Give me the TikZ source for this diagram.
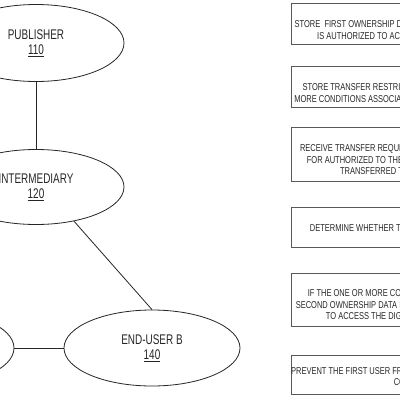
\documentclass[tikz,border=0pt]{standalone}
\usepackage{fontspec}
\newfontfamily\partyfont[FakeStretch=0.71]{Liberation Sans}
\newfontfamily\stepfont[FakeStretch=0.75]{Liberation Sans}
\usetikzlibrary{shapes.geometric}
\tikzset{
  party/.style={draw=black!85, line width=0.8pt, ellipse, inner sep=0pt, minimum width=176pt, minimum height=77pt, align=center, font=\partyfont\fontsize{14}{15}\selectfont, text=black!85},
  stepbox/.style={draw=black!65, line width=0.8pt, minimum width=280pt, inner sep=0pt},
  steptext/.style={align=center, font=\stepfont\fontsize{10}{11.5}\selectfont, text=black!85, inner sep=0pt},
  link/.style={draw=black!85, line width=0.8pt}
}

\begin{document}
\begin{tikzpicture}[x=1pt, y=-1pt]
\useasboundingbox (0,0) rectangle (400,400);
\clip (0,0) rectangle (400,400);
% parties
\node[party] (publisher) at (36,43) {PUBLISHER\\\underline{110}};
\node[party, minimum height=75pt] (intermediary) at (36,187) {INTERMEDIARY\\\underline{120}};
\node[party, minimum height=76pt] (enduserA) at (-74,348) {};
\node[party, minimum height=76pt] (enduserB) at (152,348) {END-USER B\\\underline{140}};
\draw[link] (publisher) -- (intermediary);
\draw[link] (intermediary.-42) -- (enduserB.north);
\draw[link] (enduserA) -- (enduserB);
% flow steps
\node[stepbox, minimum height=41pt] (storeowner) at (431,23.5) {};
\node[steptext] at ([yshift=-6.5pt]storeowner.center) {STORE~ FIRST OWNERSHIP DATA INDICATING THAT FIRST USER ACCOUNT\\IS AUTHORIZED TO ACCESS THE PARTICULAR CONTENT ITEM};
\node[stepbox, minimum height=41pt] (storerestrict) at (431,86.5) {};
\node[steptext] at ([yshift=-6.5pt]storerestrict.center) {STORE TRANSFER RESTRICTION DATA INDICATING THAT THE ONE OR\\MORE CONDITIONS ASSOCIATED WITH TRANSFER OF THE CONTENT ITEM};
\node[stepbox, minimum height=54pt] (receive) at (431,154) {};
\node[steptext] at ([yshift=-6pt]receive.center) {RECEIVE TRANSFER REQUEST INDICATING A SECOND USER ACCOUNT\\FOR AUTHORIZED TO THE PARTICULAR CONTENT ITEM TO NOW BE\\TRANSFERRED TO THE SECOND USER ACCOUNT};
\node[stepbox, minimum height=40pt] (determine) at (431,227) {};
\node[steptext] at ([yshift=-1pt]determine.center) {DETERMINE WHETHER THE ONE OR MORE CONDITIONS ARE MET};
\node[stepbox, minimum height=53pt] (storesecond) at (431,299.5) {};
\node[steptext] at ([yshift=-5.5pt]storesecond.center) {IF THE ONE OR MORE CONDITIONS ARE SATISFIED, THEN STORE A\\SECOND OWNERSHIP DATA INDICATING A SECOND USER IS AUTHORIZED\\TO ACCESS THE DIGITAL CONTENT ITEM ON ANY DEVICE};
\node[stepbox, minimum height=39pt] (prevent) at (431,374.5) {};
\node[steptext] at ([yshift=-2pt]prevent.center) {PREVENT THE FIRST USER FROM SUBSEQUENTLY ACCESSING THE DIGITAL\\CONTENT ITEM TOO};
\end{tikzpicture}
\end{document}
